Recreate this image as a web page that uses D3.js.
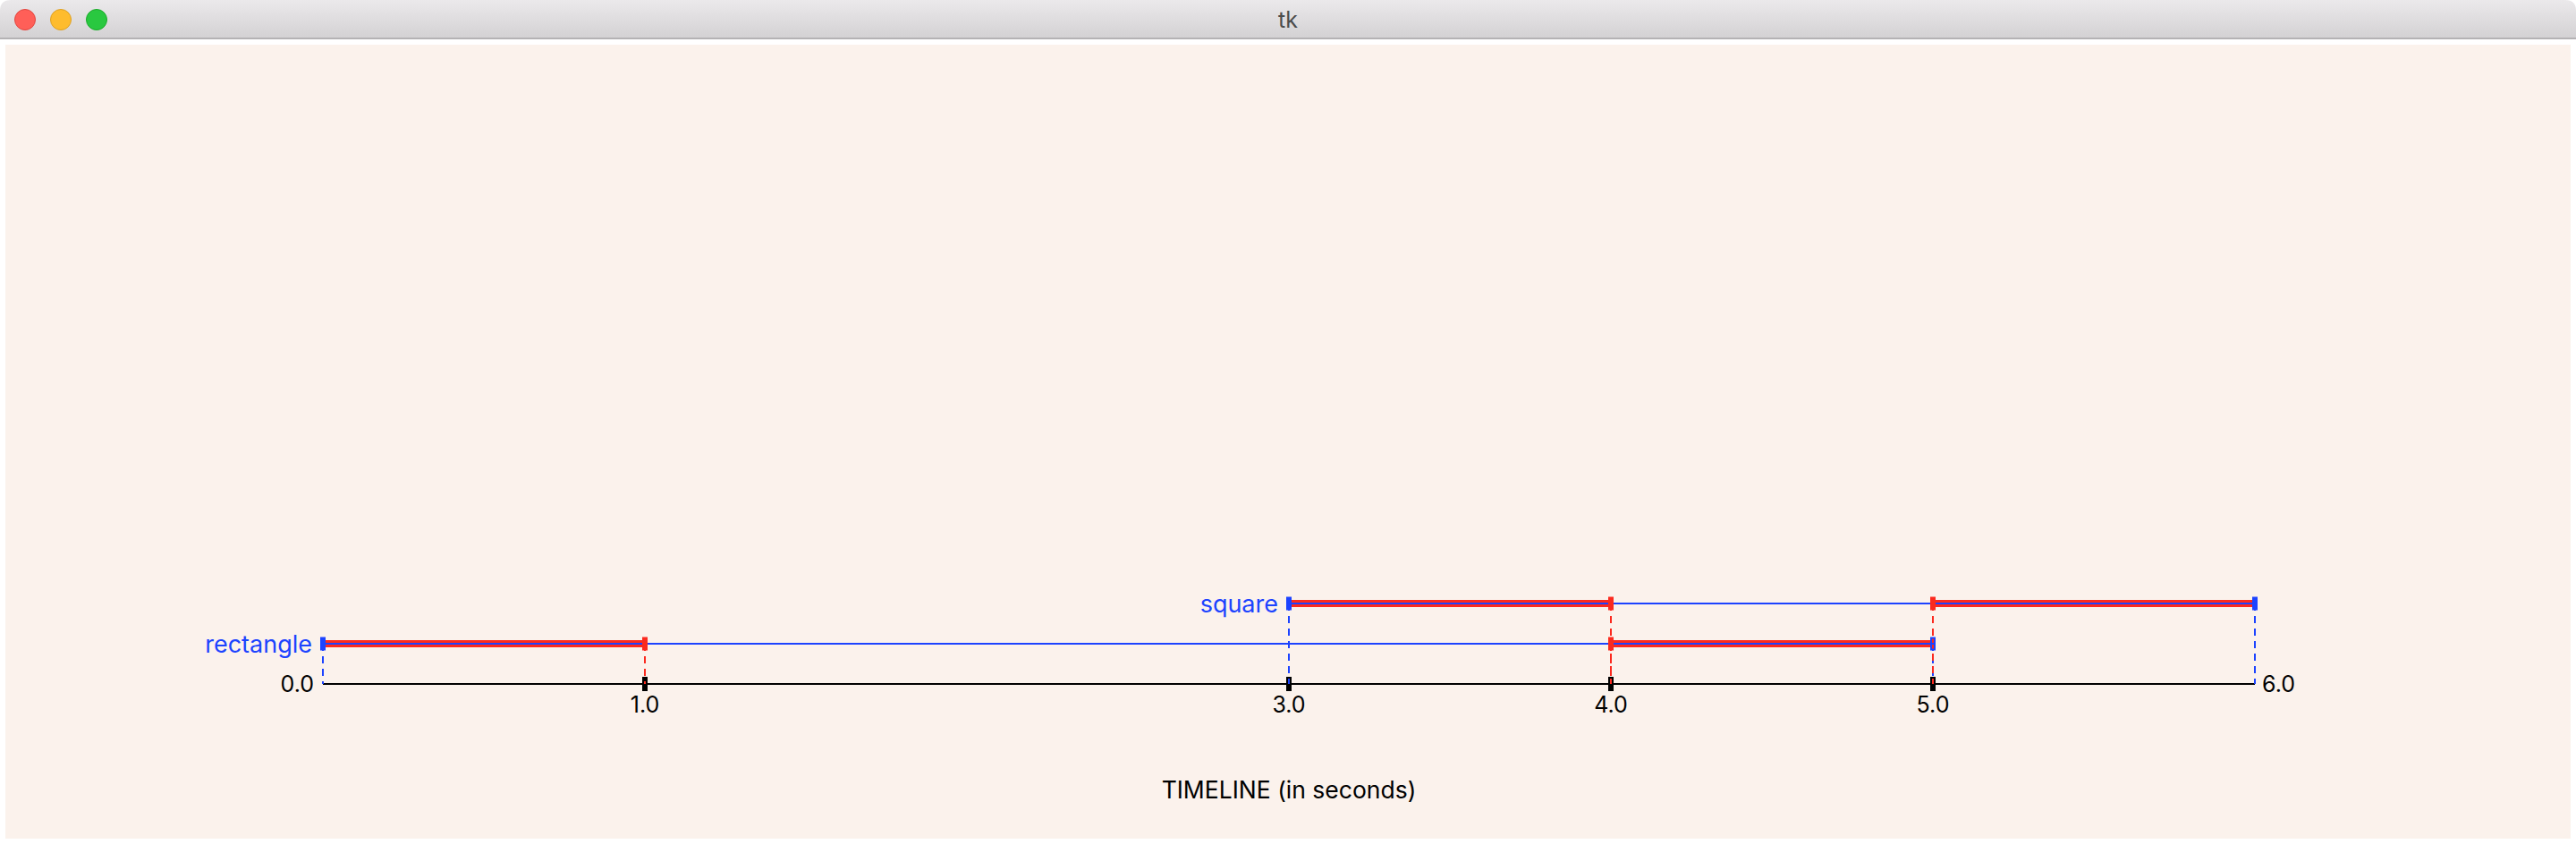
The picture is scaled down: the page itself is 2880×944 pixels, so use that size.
<!DOCTYPE html>
<html>
<head>
<meta charset="utf-8">
<script src="https://cdn.jsdelivr.net/npm/d3@7"></script>
<style>
  html, body { margin: 0; padding: 0; background: #ffffff; overflow: hidden; }
  svg { display: block; }
</style>
</head>
<body>
<svg id="chart" width="2880" height="944"></svg>
<script>
// ---- data ----
const categories = ["rectangle", "square"];
const rowStart = [0, 3];
const rowEnd = [5, 6];
const redSegments = [
  [[0, 1], [4, 5]],
  [[3, 4], [5, 6]]
];
const tickValues = [0, 1, 3, 4, 5, 6];
const tickLabels = ["0.0", "1.0", "3.0", "4.0", "5.0", "6.0"];
const axisTitle = "TIMELINE (in seconds)";
const windowTitle = "tk";

// ---- style ----
const BLUE = "#1c43ff";
const RED = "#fb2a1f";
const BG = "#fbf2ec";
const FONT = "Inter, 'Liberation Sans', Arial, sans-serif";

const svg = d3.select("#chart");

// window chrome
const grad = svg.append("defs").append("linearGradient")
  .attr("id", "tb").attr("x1", 0).attr("y1", 0).attr("x2", 0).attr("y2", 1);
grad.append("stop").attr("offset", "0%").attr("stop-color", "#ebe9eb");
grad.append("stop").attr("offset", "100%").attr("stop-color", "#d3d1d3");
svg.append("path")
  .attr("d", "M0,43 L0,12 Q0,0 12,0 L2868,0 Q2880,0 2880,12 L2880,43 Z")
  .attr("fill", "url(#tb)");
svg.append("rect").attr("x", 0).attr("y", 42).attr("width", 2880).attr("height", 2).attr("fill", "#b4b2b4");
[["#ff5f58", "#e2463f", 28], ["#febc2e", "#dea123", 68], ["#29c840", "#1aab29", 108]].forEach(([f, s, cx]) => {
  svg.append("circle").attr("cx", cx).attr("cy", 22).attr("r", 11.5)
    .attr("fill", f).attr("stroke", s).attr("stroke-width", 1);
});
svg.append("text").attr("x", 1440).attr("y", 22).attr("text-anchor", "middle")
  .attr("dominant-baseline", "central").attr("font-family", FONT).attr("font-size", 25)
  .attr("fill", "#4c4c4c").text(windowTitle);

// canvas
svg.append("rect").attr("x", 6).attr("y", 50).attr("width", 2868).attr("height", 888).attr("fill", BG);

// scales
const x = d3.scaleLinear().domain([0, 6]).range([361, 2521]);
const y = d3.scaleLinear().domain([-1, 1]).range([765, 675]); // -1 = axis, 0.. rows
const axisY = y(-1);

const g = svg.append("g");

// axis line
g.append("line").attr("x1", x(0)).attr("x2", x(6)).attr("y1", axisY).attr("y2", axisY)
  .attr("stroke", "#000").attr("stroke-width", 2);

// axis ticks (interior)
const inner = tickValues.filter((v, i) => i > 0 && i < tickValues.length - 1);
g.selectAll(".tick").data(inner).enter().append("rect")
  .attr("x", d => x(d) - 3).attr("y", axisY - 8).attr("width", 6).attr("height", 16)
  .attr("fill", "#000");

// tick labels
g.selectAll(".tl").data(tickValues).enter().append("text")
  .attr("font-family", FONT).attr("font-size", 25).attr("fill", "#000")
  .attr("x", (d, i) => i === 0 ? x(d) - 10 : (i === tickValues.length - 1 ? x(d) + 8 : x(d)))
  .attr("y", (d, i) => (i === 0 || i === tickValues.length - 1) ? axisY + 9 : axisY + 32)
  .attr("text-anchor", (d, i) => i === 0 ? "end" : (i === tickValues.length - 1 ? "start" : "middle"))
  .text((d, i) => tickLabels[i]);

// axis title
g.append("text").attr("x", (x(0) + x(6)) / 2).attr("y", 893).attr("text-anchor", "middle")
  .attr("font-family", FONT).attr("font-size", 26.5).attr("fill", "#000").text(axisTitle);

// dashed guide lines
const guides = [];
categories.forEach((c, i) => {
  guides.push({ t: rowStart[i], row: i, color: BLUE });
  redSegments[i].forEach(([a, b]) => {
    if (a !== rowStart[i]) guides.push({ t: a, row: i, color: RED });
    if (b !== rowEnd[i]) guides.push({ t: b, row: i, color: RED });
  });
  guides.push({ t: rowEnd[i], row: i, color: BLUE });
});
g.selectAll(".guide").data(guides).enter().append("line")
  .attr("x1", d => x(d.t)).attr("x2", d => x(d.t))
  .attr("y1", d => y(d.row)).attr("y2", axisY)
  .attr("stroke", d => d.color).attr("stroke-width", 2)
  .attr("stroke-dasharray", "8,6");

// red thick segments
categories.forEach((c, i) => {
  g.selectAll(".seg" + i).data(redSegments[i]).enter().append("line")
    .attr("x1", d => x(d[0])).attr("x2", d => x(d[1]))
    .attr("y1", y(i)).attr("y2", y(i))
    .attr("stroke", RED).attr("stroke-width", 8);
});

// thin blue row lines
g.selectAll(".row").data(categories).enter().append("line")
  .attr("x1", (d, i) => x(rowStart[i])).attr("x2", (d, i) => x(rowEnd[i]))
  .attr("y1", (d, i) => y(i)).attr("y2", (d, i) => y(i))
  .attr("stroke", BLUE).attr("stroke-width", 2);

// markers
g.selectAll(".mk").data(guides.filter(d => d.color === RED)).enter().append("rect")
  .attr("x", d => x(d.t) - 3).attr("y", d => y(d.row) - 7.5).attr("width", 6).attr("height", 15)
  .attr("fill", RED);
categories.forEach((c, i) => {
  // start marker
  g.append("rect").attr("x", x(rowStart[i]) - 3).attr("y", y(i) - 7.5).attr("width", 6).attr("height", 15)
    .attr("fill", BLUE);
  // end marker: red-filled with blue outline when a red segment ends there below another row
  const redEnds = redSegments[i].some(s => s[1] === rowEnd[i]);
  const lastRow = i === categories.length - 1;
  if (redEnds && !lastRow) {
    g.append("rect").attr("x", x(rowEnd[i]) - 2).attr("y", y(i) - 6.5).attr("width", 4).attr("height", 13)
      .attr("fill", RED).attr("stroke", BLUE).attr("stroke-width", 2);
    g.append("line").attr("x1", x(rowEnd[i]) - 3).attr("x2", x(rowEnd[i]) + 1).attr("y1", y(i)).attr("y2", y(i))
      .attr("stroke", BLUE).attr("stroke-width", 2);
  } else {
    g.append("rect").attr("x", x(rowEnd[i]) - 3).attr("y", y(i) - 7.5).attr("width", 6).attr("height", 15)
      .attr("fill", BLUE);
  }
});

// row labels
g.selectAll(".rl").data(categories).enter().append("text")
  .attr("x", (d, i) => x(rowStart[i]) - 12).attr("y", (d, i) => y(i))
  .attr("dominant-baseline", "central").attr("text-anchor", "end")
  .attr("font-family", FONT).attr("font-size", 27).attr("fill", BLUE)
  .text(d => d);
</script>
</body>
</html>
